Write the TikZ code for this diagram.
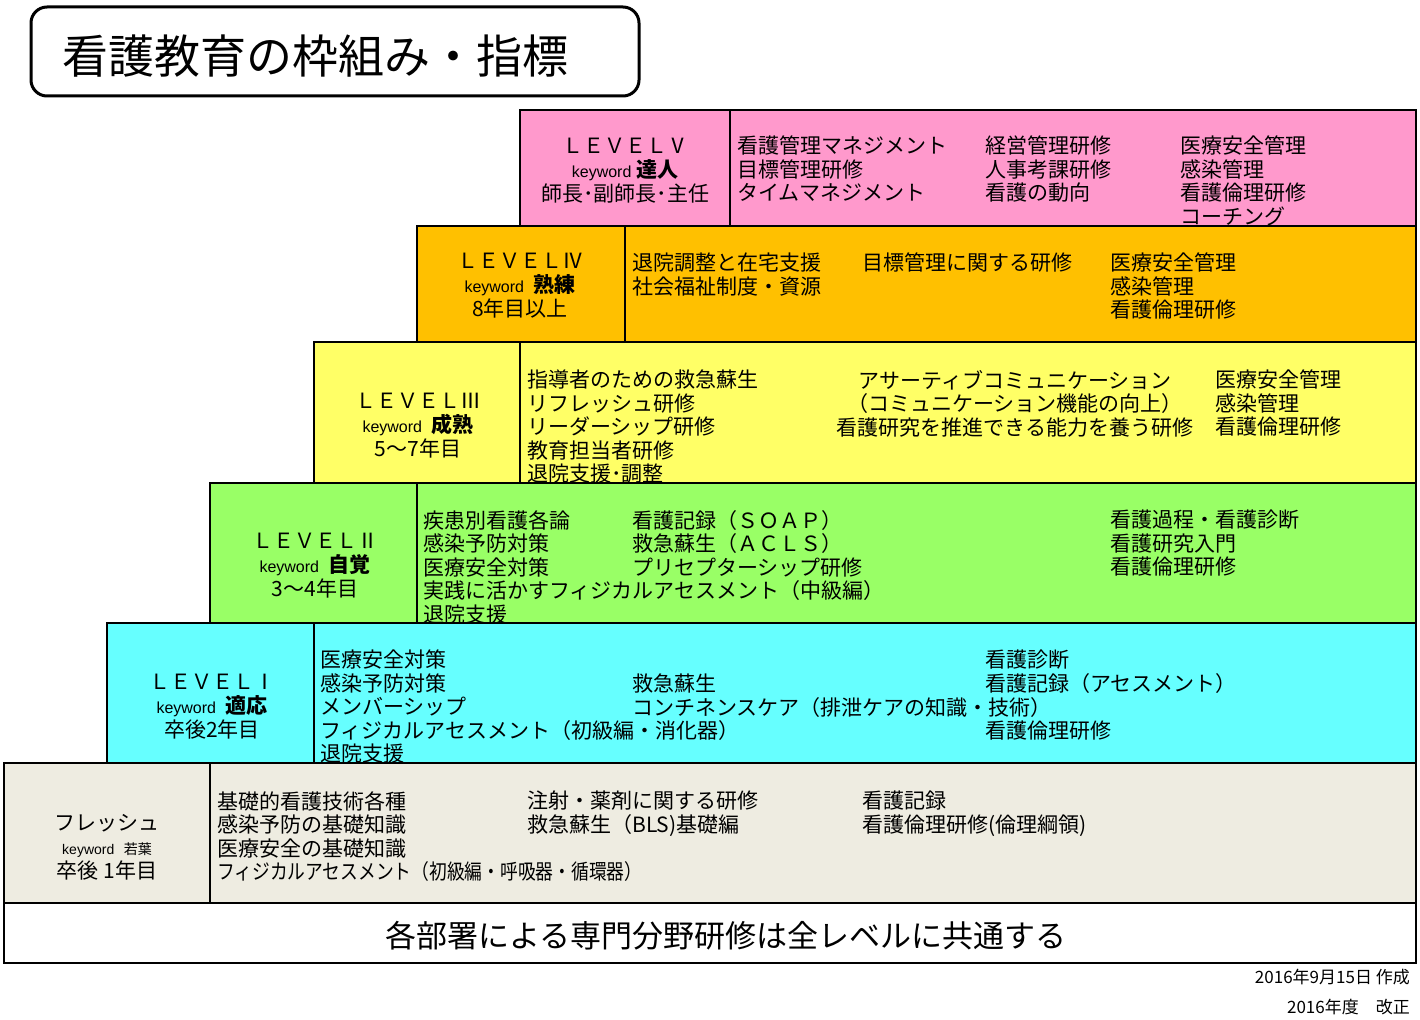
\documentclass[tikz,border=0pt]{standalone}
\usepackage{fontspec}
\setmainfont{Noto Sans CJK JP}
\newfontfamily\kwfont{Liberation Sans}
\usetikzlibrary{positioning}
\definecolor{LvPink}{RGB}{255,153,204}
\definecolor{LvOrange}{RGB}{255,192,0}
\definecolor{LvYellow}{RGB}{255,255,102}
\definecolor{LvGreen}{RGB}{153,255,102}
\definecolor{LvCyan}{RGB}{102,255,255}
\definecolor{LvBeige}{RGB}{238,236,225}
\newcommand{\kw}{\kwfont\fontsize{16}{16}\selectfont}

\begin{document}
\begin{tikzpicture}[x=1pt,y=-1pt,
  rowbox/.style={draw=black,line width=2pt},
  item/.style={anchor=north west,inner sep=0pt,align=left,font=\fontsize{21}{23.5}\selectfont},
  lvlabel/.style={anchor=north,inner sep=0pt,align=center,font=\fontsize{21}{24}\selectfont}]
\useasboundingbox[fill=white] (0,0) rectangle (1420,1019);

% title
\draw[line width=3pt,rounded corners=16pt] (31,7) rectangle (639,96);
\node[anchor=west,inner sep=0pt,font=\fontsize{46}{46}\selectfont] (title) at (62,56) {看護教育の枠組み・指標};

% rows: left / top / bottom / divider / colour
\foreach \l/\t/\b/\d/\c in {520/110/226/730/LvPink, 417/226/342/625/LvOrange,
    314/342/483/520/LvYellow, 210/483/623/417/LvGreen,
    107/623/763/314/LvCyan, 4/763/903/210/LvBeige} {
  \draw[rowbox,fill=\c] (\l,\t) rectangle (1416,\b);
  \draw[rowbox] (\d,\t) -- (\d,\b);
}
\draw[rowbox,fill=white] (4,903) rectangle (1416,963);

% LEVEL V
\node[lvlabel] (lv5) at (625,138) {ＬＥＶＥＬⅤ\\{\kw keyword} \textbf{達人}\\師長･副師長･主任};
\node[item] (lv5a) at (737,136) {看護管理マネジメント\\目標管理研修\\タイムマネジメント};
\node[item] (lv5b) at (985,136) {経営管理研修\\人事考課研修\\看護の動向};
\node[item] (lv5c) at (1180,136) {医療安全管理\\感染管理\\看護倫理研修\\コーチング};

% LEVEL IV
\node[lvlabel] (lv4) at (520,253) {ＬＥＶＥＬⅣ\\{\kw keyword}\ \ \textbf{熟練}\\8年目以上};
\node[item] (lv4a) at (632,253) {退院調整と在宅支援\\社会福祉制度・資源};
\node[item] (lv4b) at (862,253) {目標管理に関する研修};
\node[item] (lv4c) at (1110,253) {医療安全管理\\感染管理\\看護倫理研修};

% LEVEL III
\node[lvlabel] (lv3) at (418,393) {ＬＥＶＥＬⅢ\\{\kw keyword}\ \ \textbf{成熟}\\5～7年目};
\node[item] (lv3a) at (527,370) {指導者のための救急蘇生\\リフレッシュ研修\\リーダーシップ研修\\教育担当者研修\\退院支援･調整};
\node[item,anchor=north,align=center] (lv3b) at (1015,370) {アサーティブコミュニケーション\\（コミュニケーション機能の向上）\\看護研究を推進できる能力を養う研修};
\node[item] (lv3c) at (1215,370) {医療安全管理\\感染管理\\看護倫理研修};

% LEVEL II
\node[lvlabel] (lv2) at (315,533) {ＬＥＶＥＬⅡ\\{\kw keyword}\ \ \textbf{自覚}\\3～4年目};
\node[item] (lv2a) at (423,510) {疾患別看護各論\\感染予防対策\\医療安全対策\\実践に活かすフィジカルアセスメント（中級編）\\退院支援};
\node[item] (lv2b) at (632,510) {看護記録（ＳＯＡＰ）\\救急蘇生（ＡＣＬＳ）\\プリセプターシップ研修};
\node[item] (lv2c) at (1110,510) {看護過程・看護診断\\看護研究入門\\看護倫理研修};

% LEVEL I
\node[lvlabel] (lv1) at (212,674) {ＬＥＶＥＬⅠ\\{\kw keyword}\ \ \textbf{適応}\\卒後2年目};
\node[item] (lv1a) at (320,650) {医療安全対策\\感染予防対策\\メンバーシップ\\フィジカルアセスメント（初級編・消化器）\\退院支援};
\node[item] (lv1b) at (632,674) {救急蘇生\\コンチネンスケア（排泄ケアの知識・技術）};
\node[item] (lv1c) at (985,650) {看護診断\\看護記録（アセスメント）\\[23.5pt]看護倫理研修};

% fresh
\node[lvlabel] (lv0) at (107,814) {フレッシュ\\{\kwfont\fontsize{14}{14}\selectfont keyword}\ \ {\fontsize{14}{14}\selectfont 若葉}\\卒後 1年目};
\node[item] (lv0a) at (217,791) {基礎的看護技術各種\\感染予防の基礎知識\\医療安全の基礎知識\\\scalebox{0.845}[1]{フィジカルアセスメント（初級編・呼吸器・循環器）}};
\node[item] (lv0b) at (527,791) {注射・薬剤に関する研修\\救急蘇生（BLS)基礎編};
\node[item] (lv0c) at (862,791) {看護記録\\看護倫理研修(倫理綱領)};

% common
\node[inner sep=0pt,font=\fontsize{31}{31}\selectfont] (common) at (726,936) {各部署による専門分野研修は全レベルに共通する};
\node[anchor=east,inner sep=0pt,font=\fontsize{17}{17}\selectfont] (made) at (1410,977) {2016年9月15日 作成};
\node[anchor=east,inner sep=0pt,font=\fontsize{17}{17}\selectfont] (revised) at (1410,1007) {2016年度　改正};
\end{tikzpicture}
\end{document}
